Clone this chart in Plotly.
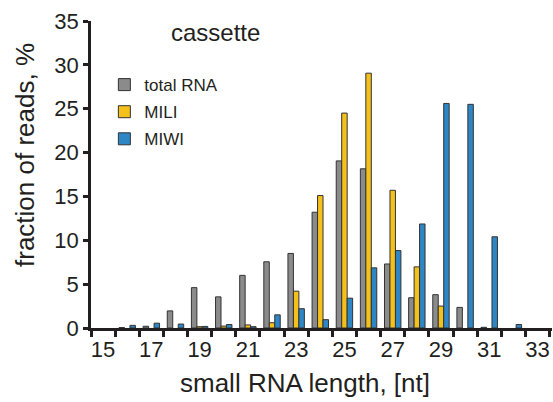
import plotly.graph_objects as go

lengths = list(range(15, 34))
total_rna = [0.0, 0.05, 0.2, 1.95, 4.6, 3.55, 6.0, 7.55, 8.5, 13.2, 19.05, 18.15, 7.3, 3.45, 3.8, 2.35, 0.08, 0.0, 0.0]
mili =      [0.0, 0.0, 0.0, 0.0, 0.15, 0.22, 0.35, 0.6, 4.2, 15.1, 24.5, 29.05, 15.7, 6.97, 2.5, 0.0, 0.0, 0.0, 0.0]
miwi =      [0.0, 0.3, 0.55, 0.45, 0.18, 0.4, 0.15, 1.5, 2.2, 0.95, 3.4, 6.86, 8.83, 11.86, 25.6, 25.5, 10.4, 0.4, 0.0]

series_names = ["total RNA", "MILI", "MIWI"]
colors = ["#8b8b8c", "#f4c11c", "#2e86c5"]
x_tick_vals = [15, 17, 19, 21, 23, 25, 27, 29, 31, 33]
y_tick_vals = [0, 5, 10, 15, 20, 25, 30, 35]

ink = "#231f20"
font_family = "Liberation Sans, Arial, sans-serif"

W, H = 553, 402
ML, MR, MT, MB = 91, 1, 21, 74
plot_w = W - ML - MR
plot_h = H - MT - MB


def px_to_paper(px, py):
    return (px - ML) / plot_w, (H - MB - py) / plot_h


fig = go.Figure()
for name, vals, col in zip(series_names, [total_rna, mili, miwi], colors):
    fig.add_trace(go.Bar(
        x=lengths, y=[v if v > 0 else None for v in vals], name=name, legendgroup=name,
        marker=dict(color=col, line=dict(color="#333333", width=1)),
    ))

ytx, yty = px_to_paper(25, 155)
xtx, xty = px_to_paper(305, 383)

fig.update_layout(
    width=W, height=H,
    barmode="group", bargap=0.32, bargroupgap=0.0,
    plot_bgcolor="white", paper_bgcolor="white",
    margin=dict(l=ML, r=MR, t=MT, b=MB, autoexpand=False),
    font=dict(family=font_family, color=ink, size=22),
    showlegend=True,
    legend=dict(
        x=0.029, y=0.85, xanchor="left", yanchor="top",
        font=dict(size=17, color=ink), bgcolor="rgba(0,0,0,0)",
        itemwidth=30, tracegroupgap=2,
    ),
    annotations=[
        dict(text="cassette", x=0.27, y=1.012, xref="paper", yref="paper",
             xanchor="center", yanchor="top", showarrow=False,
             font=dict(size=24, color=ink)),
        dict(text="fraction of reads, %", x=ytx, y=yty, xref="paper", yref="paper",
             xanchor="center", yanchor="middle", showarrow=False, textangle=-90,
             font=dict(size=26, color=ink)),
        dict(text="small RNA length, [nt]", x=xtx, y=xty, xref="paper", yref="paper",
             xanchor="center", yanchor="middle", showarrow=False,
             font=dict(size=26, color=ink)),
    ],
)

fig.update_xaxes(
    range=[14.5, 33.6], tickmode="array", tickvals=x_tick_vals,
    ticks="", showline=True, linecolor=ink, linewidth=2.5,
    showgrid=False, zeroline=False, tickfont=dict(size=22),
    minor=dict(tickmode="linear", tick0=14.5, dtick=1, ticks="outside",
               ticklen=6, tickwidth=2.5, tickcolor=ink, showgrid=False),
    automargin=False,
)
fig.update_yaxes(
    range=[0, 35], tickmode="array", tickvals=y_tick_vals,
    ticks="outside", ticklen=5, tickwidth=2.5, tickcolor=ink,
    showline=True, linecolor=ink, linewidth=2.5,
    showgrid=False, zeroline=False, tickfont=dict(size=22),
    automargin=False,
)

fig.write_html("out.html", config={"displayModeBar": False},
               post_script="document.body.style.margin='0';document.body.style.overflow='hidden';")
